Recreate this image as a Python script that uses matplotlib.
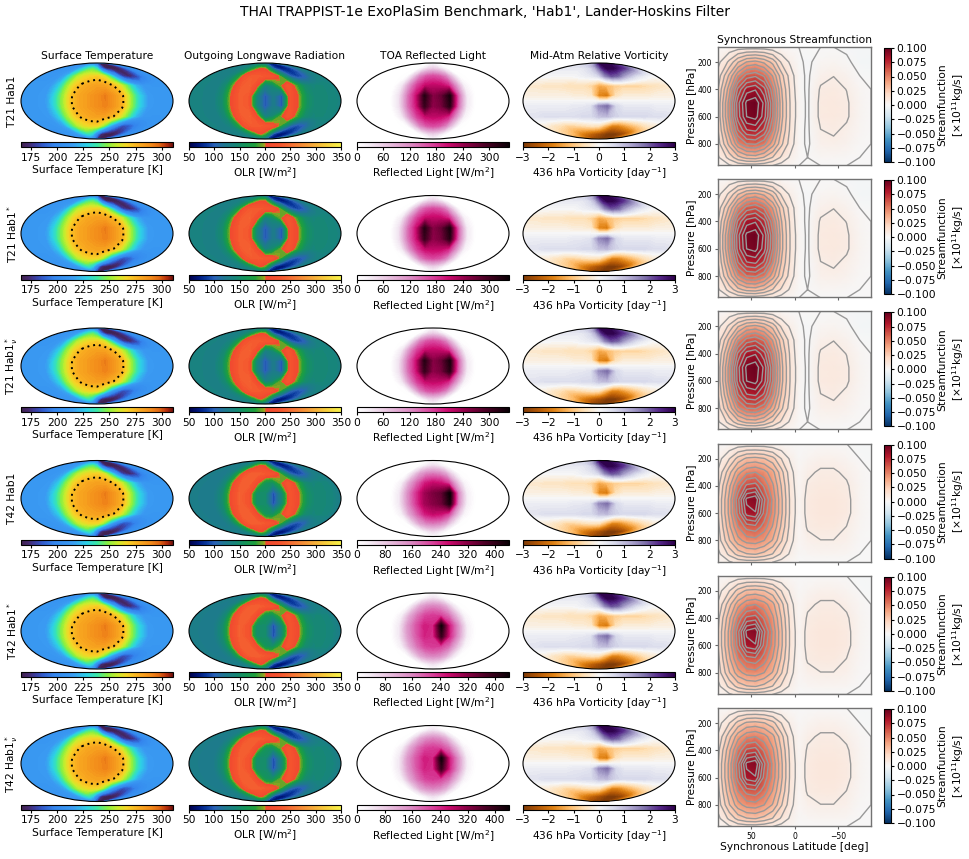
import numpy as np
import matplotlib
matplotlib.use('Agg')
import matplotlib.pyplot as plt
from matplotlib.colors import LinearSegmentedColormap, Normalize
from matplotlib.cm import ScalarMappable

#----- map grid [deg], rows north -> south
lon = np.arange(-180, 181, 20)
lat = np.array([90, 70, 50, 30, 10, -10, -30, -50, -70, -90])

#----- surface temperature [K]
tsurf = np.array([
    [205, 205, 205, 205, 205, 205, 205, 200, 190, 178, 168, 165, 165, 165, 168, 176, 190, 200, 205],
    [208, 208, 208, 210, 212, 218, 228, 238, 242, 232, 192, 168, 165, 165, 168, 178, 194, 205, 208],
    [210, 210, 210, 212, 218, 238, 254, 262, 266, 268, 262, 240, 210, 178, 170, 178, 195, 206, 210],
    [212, 212, 212, 214, 226, 248, 266, 276, 280, 282, 281, 275, 262, 242, 222, 212, 211, 211, 212],
    [213, 213, 213, 215, 232, 252, 273, 280, 284, 288, 293, 285, 276, 252, 230, 215, 212, 212, 213],
    [213, 213, 213, 215, 232, 252, 273, 280, 284, 288, 292, 285, 276, 252, 230, 215, 212, 212, 213],
    [212, 212, 212, 214, 226, 248, 266, 276, 280, 282, 281, 275, 262, 242, 222, 212, 211, 211, 212],
    [210, 210, 210, 212, 218, 238, 254, 262, 266, 266, 250, 222, 198, 182, 186, 196, 204, 208, 210],
    [208, 208, 208, 210, 212, 218, 228, 236, 228, 200, 172, 166, 165, 167, 174, 188, 200, 206, 208],
    [205, 205, 205, 205, 205, 205, 205, 196, 182, 170, 165, 165, 165, 166, 172, 185, 196, 204, 205]])

#----- outgoing longwave radiation [W/m2]
olr_t21 = np.array([
    [132, 132, 132, 132, 132, 130, 126, 120, 110, 98, 85, 72, 65, 65, 70, 82, 98, 115, 132],
    [132, 132, 132, 132, 136, 145, 160, 185, 200, 198, 160, 95, 75, 70, 74, 88, 106, 124, 132],
    [134, 134, 132, 132, 142, 175, 225, 235, 235, 230, 226, 205, 150, 100, 88, 98, 118, 134, 134],
    [134, 134, 132, 132, 148, 200, 235, 240, 205, 130, 145, 190, 232, 188, 150, 140, 142, 140, 134],
    [135, 135, 132, 132, 150, 205, 238, 232, 140, 95, 125, 95, 225, 198, 155, 142, 142, 140, 135],
    [135, 135, 132, 132, 150, 205, 238, 232, 140, 95, 125, 95, 225, 198, 155, 142, 142, 140, 135],
    [134, 134, 132, 132, 148, 200, 235, 240, 205, 130, 145, 190, 232, 188, 150, 140, 142, 140, 134],
    [134, 134, 132, 132, 142, 175, 225, 235, 235, 230, 226, 200, 150, 105, 92, 100, 120, 134, 134],
    [132, 132, 132, 132, 136, 145, 160, 185, 205, 190, 150, 90, 70, 66, 70, 86, 104, 122, 132],
    [132, 132, 132, 132, 132, 130, 126, 118, 105, 92, 80, 70, 65, 65, 70, 82, 98, 115, 132]])
olr_t42 = np.array([
    [128, 128, 128, 128, 128, 126, 124, 120, 110, 98, 85, 72, 65, 65, 70, 82, 98, 115, 128],
    [126, 126, 126, 126, 132, 145, 162, 190, 205, 198, 160, 100, 78, 70, 74, 88, 106, 122, 126],
    [126, 126, 124, 126, 140, 180, 228, 238, 238, 232, 226, 205, 150, 100, 88, 98, 118, 132, 126],
    [126, 126, 124, 126, 146, 205, 238, 238, 205, 160, 150, 190, 232, 192, 150, 140, 142, 138, 126],
    [126, 126, 124, 126, 148, 208, 240, 225, 150, 150, 90, 140, 228, 202, 155, 142, 142, 138, 126],
    [126, 126, 124, 126, 148, 208, 240, 225, 150, 150, 90, 140, 228, 202, 155, 142, 142, 138, 126],
    [126, 126, 124, 126, 146, 205, 238, 238, 205, 160, 150, 190, 232, 192, 150, 140, 142, 138, 126],
    [126, 126, 124, 126, 140, 180, 228, 238, 238, 232, 226, 200, 150, 105, 92, 100, 120, 132, 126],
    [126, 126, 126, 126, 132, 145, 160, 188, 208, 190, 150, 90, 70, 66, 70, 86, 104, 120, 126],
    [128, 128, 128, 128, 128, 126, 124, 118, 105, 92, 80, 70, 65, 65, 70, 82, 98, 115, 128]])

#----- TOA reflected light [W/m2]
refl_t21 = np.array([
    [0, 0, 0, 0, 0, 0, 0, 0, 0, 0, 0, 0, 0, 0, 0, 0, 0, 0, 0],
    [0, 0, 0, 0, 0, 0, 5, 25, 45, 55, 45, 25, 5, 0, 0, 0, 0, 0, 0],
    [0, 0, 0, 0, 0, 5, 60, 125, 155, 165, 155, 125, 60, 5, 0, 0, 0, 0, 0],
    [0, 0, 0, 0, 0, 30, 115, 175, 210, 215, 212, 190, 110, 20, 0, 0, 0, 0, 0],
    [0, 0, 0, 0, 0, 40, 135, 205, 320, 250, 270, 330, 150, 30, 0, 0, 0, 0, 0],
    [0, 0, 0, 0, 0, 40, 135, 200, 305, 245, 262, 318, 145, 30, 0, 0, 0, 0, 0],
    [0, 0, 0, 0, 0, 30, 115, 175, 210, 215, 212, 190, 110, 20, 0, 0, 0, 0, 0],
    [0, 0, 0, 0, 0, 5, 60, 125, 155, 165, 155, 125, 60, 5, 0, 0, 0, 0, 0],
    [0, 0, 0, 0, 0, 0, 5, 25, 45, 55, 45, 25, 5, 0, 0, 0, 0, 0, 0],
    [0, 0, 0, 0, 0, 0, 0, 0, 0, 0, 0, 0, 0, 0, 0, 0, 0, 0, 0]])
refl_t42 = np.array([
    [0, 0, 0, 0, 0, 0, 0, 0, 0, 0, 0, 0, 0, 0, 0, 0, 0, 0, 0],
    [0, 0, 0, 0, 0, 0, 5, 25, 45, 55, 45, 25, 5, 0, 0, 0, 0, 0, 0],
    [0, 0, 0, 0, 0, 5, 65, 130, 160, 170, 160, 125, 55, 5, 0, 0, 0, 0, 0],
    [0, 0, 0, 0, 0, 30, 125, 190, 250, 270, 260, 220, 110, 20, 0, 0, 0, 0, 0],
    [0, 0, 0, 0, 0, 40, 150, 230, 300, 330, 350, 440, 160, 30, 0, 0, 0, 0, 0],
    [0, 0, 0, 0, 0, 40, 145, 225, 295, 320, 340, 420, 155, 30, 0, 0, 0, 0, 0],
    [0, 0, 0, 0, 0, 30, 125, 190, 250, 270, 260, 220, 110, 20, 0, 0, 0, 0, 0],
    [0, 0, 0, 0, 0, 5, 65, 130, 160, 170, 160, 125, 55, 5, 0, 0, 0, 0, 0],
    [0, 0, 0, 0, 0, 0, 5, 25, 45, 55, 45, 25, 5, 0, 0, 0, 0, 0, 0],
    [0, 0, 0, 0, 0, 0, 0, 0, 0, 0, 0, 0, 0, 0, 0, 0, 0, 0, 0]])
refl_t42s = np.array([
    [0, 0, 0, 0, 0, 0, 0, 0, 0, 0, 0, 0, 0, 0, 0, 0, 0, 0, 0],
    [0, 0, 0, 0, 0, 0, 5, 20, 40, 50, 40, 20, 5, 0, 0, 0, 0, 0, 0],
    [0, 0, 0, 0, 0, 5, 60, 120, 150, 160, 150, 115, 50, 5, 0, 0, 0, 0, 0],
    [0, 0, 0, 0, 0, 30, 115, 175, 215, 225, 215, 180, 100, 20, 0, 0, 0, 0, 0],
    [0, 0, 0, 0, 0, 40, 140, 200, 250, 240, 430, 245, 145, 30, 0, 0, 0, 0, 0],
    [0, 0, 0, 0, 0, 40, 135, 195, 245, 235, 390, 240, 140, 30, 0, 0, 0, 0, 0],
    [0, 0, 0, 0, 0, 30, 115, 175, 215, 225, 215, 180, 100, 20, 0, 0, 0, 0, 0],
    [0, 0, 0, 0, 0, 5, 60, 120, 150, 160, 150, 115, 50, 5, 0, 0, 0, 0, 0],
    [0, 0, 0, 0, 0, 0, 5, 20, 40, 50, 40, 20, 5, 0, 0, 0, 0, 0, 0],
    [0, 0, 0, 0, 0, 0, 0, 0, 0, 0, 0, 0, 0, 0, 0, 0, 0, 0, 0]])

#----- 436 hPa relative vorticity [1/day]
vort = np.array([
    [0.5, 0.5, 0.6, 0.8, 1.0, 1.2, 1.5, 2.0, 2.5, 2.8, 3.0, 3.0, 3.0, 3.0, 3.0, 2.8, 2.5, 2.0, 1.5],
    [0.3, 0.3, 0.3, 0.3, 0.3, 0.3, 0.4, 0.6, 1.0, 1.8, 2.6, 3.0, 3.0, 2.8, 2.5, 2.2, 1.8, 1.2, 0.6],
    [0.0, 0.0, 0.0, 0.0, 0.0, 0.0, 0.1, 0.2, 0.3, 0.6, 1.5, 2.0, 1.8, 1.2, 0.8, 0.4, 0.2, 0.0, 0.0],
    [-0.4, -0.4, -0.5, -0.5, -0.5, -0.6, -0.6, -0.6, -0.8, -1.4, -1.2, -0.9, -0.8, -0.8, -0.8, -0.7, -0.6, -0.5, -0.4],
    [-0.2, -0.2, -0.2, -0.2, -0.2, -0.2, -0.3, -0.3, -0.4, -1.8, -2.0, -0.6, -0.3, -0.3, -0.3, -0.3, -0.2, -0.2, -0.2],
    [0.2, 0.2, 0.2, 0.2, 0.2, 0.2, 0.3, 0.3, 0.4, 1.5, 1.8, 0.6, 0.3, 0.3, 0.3, 0.3, 0.2, 0.2, 0.2],
    [0.4, 0.4, 0.5, 0.5, 0.5, 0.5, 0.5, 0.6, 0.6, 0.9, 1.0, 0.7, 0.6, 0.6, 0.6, 0.6, 0.5, 0.5, 0.4],
    [-0.3, -0.3, -0.5, -0.6, -0.8, -0.8, -0.7, -0.6, -0.5, -0.6, -1.2, -1.8, -1.8, -1.5, -1.2, -0.9, -0.6, -0.4, -0.3],
    [-0.8, -0.8, -1.0, -1.2, -1.5, -1.8, -2.0, -2.2, -2.4, -2.6, -2.8, -3.0, -3.0, -3.0, -2.8, -2.5, -2.0, -1.5, -1.0],
    [-2.0, -2.0, -2.2, -2.4, -2.6, -2.8, -3.0, -3.0, -3.0, -3.0, -3.0, -3.0, -3.0, -3.0, -3.0, -3.0, -2.8, -2.5, -2.2]])

#----- synchronous streamfunction [1e11 kg/s]
stream_lat = np.array([88, 75, 65, 55, 45, 35, 25, 15, 5, -5, -15, -30, -45, -60, -75, -88])
stream_p = np.array([90, 200, 300, 400, 500, 600, 700, 800, 900, 960])
psi_t21 = np.array([
    [0.000, 0.002, 0.003, 0.003, 0.003, 0.003, 0.002, 0.001, 0.000, 0.000, 0.000, 0.000, 0.000, -0.001, -0.002, -0.002],
    [0.005, 0.016, 0.028, 0.036, 0.038, 0.034, 0.026, 0.013, 0.006, 0.001, -0.001, 0.002, 0.003, 0.001, -0.002, -0.003],
    [0.010, 0.030, 0.048, 0.060, 0.063, 0.056, 0.042, 0.024, 0.011, 0.002, -0.001, 0.005, 0.007, 0.004, 0.000, -0.001],
    [0.014, 0.040, 0.066, 0.082, 0.085, 0.074, 0.052, 0.029, 0.013, 0.002, -0.001, 0.008, 0.009, 0.007, 0.002, 0.000],
    [0.016, 0.046, 0.076, 0.095, 0.098, 0.084, 0.058, 0.031, 0.014, 0.003, -0.001, 0.009, 0.010, 0.008, 0.003, 0.000],
    [0.016, 0.046, 0.075, 0.093, 0.096, 0.082, 0.057, 0.031, 0.014, 0.003, -0.001, 0.009, 0.010, 0.008, 0.003, 0.000],
    [0.014, 0.040, 0.064, 0.078, 0.080, 0.070, 0.050, 0.028, 0.013, 0.002, -0.001, 0.007, 0.008, 0.006, 0.002, 0.000],
    [0.011, 0.031, 0.048, 0.057, 0.058, 0.052, 0.039, 0.023, 0.011, 0.002, -0.001, 0.005, 0.006, 0.004, 0.001, 0.000],
    [0.006, 0.017, 0.026, 0.031, 0.032, 0.028, 0.021, 0.013, 0.006, 0.001, 0.000, 0.002, 0.002, 0.001, 0.000, 0.000],
    [0.002, 0.006, 0.009, 0.010, 0.010, 0.009, 0.007, 0.004, 0.002, 0.000, 0.000, 0.000, 0.000, 0.000, 0.000, 0.000]])
psi_t42 = np.array([
    [0.000, 0.001, 0.002, 0.002, 0.002, 0.002, 0.001, 0.001, 0.000, 0.000, 0.000, 0.000, 0.000, 0.000, -0.001, -0.001],
    [0.004, 0.014, 0.024, 0.030, 0.031, 0.029, 0.024, 0.014, 0.006, 0.001, 0.003, 0.005, 0.005, 0.003, 0.000, -0.001],
    [0.008, 0.026, 0.040, 0.048, 0.050, 0.046, 0.038, 0.024, 0.010, 0.002, 0.006, 0.008, 0.008, 0.006, 0.002, 0.000],
    [0.012, 0.034, 0.052, 0.066, 0.068, 0.056, 0.044, 0.028, 0.012, 0.002, 0.008, 0.010, 0.010, 0.008, 0.003, 0.000],
    [0.014, 0.038, 0.062, 0.088, 0.092, 0.066, 0.048, 0.030, 0.013, 0.003, 0.009, 0.011, 0.011, 0.009, 0.003, 0.000],
    [0.014, 0.038, 0.060, 0.082, 0.085, 0.062, 0.047, 0.030, 0.013, 0.003, 0.009, 0.011, 0.011, 0.009, 0.003, 0.000],
    [0.012, 0.034, 0.050, 0.060, 0.062, 0.054, 0.042, 0.027, 0.012, 0.002, 0.008, 0.010, 0.010, 0.007, 0.002, 0.000],
    [0.010, 0.028, 0.040, 0.046, 0.047, 0.043, 0.035, 0.022, 0.010, 0.002, 0.005, 0.007, 0.007, 0.005, 0.001, 0.000],
    [0.005, 0.016, 0.024, 0.028, 0.029, 0.026, 0.021, 0.013, 0.006, 0.001, 0.002, 0.003, 0.003, 0.002, 0.000, 0.000],
    [0.002, 0.006, 0.009, 0.010, 0.010, 0.009, 0.007, 0.004, 0.002, 0.000, 0.000, 0.000, 0.000, 0.000, 0.000, 0.000]])

#----- labels / per-row choices
row_labels = ['T21 Hab1', r'T21 Hab1$^*$', r'T21 Hab1$^*_\nu$',
              'T42 Hab1', r'T42 Hab1$^*$', r'T42 Hab1$^*_\nu$']
col_titles = ['Surface Temperature', 'Outgoing Longwave Radiation',
              'TOA Reflected Light', 'Mid-Atm Relative Vorticity']
cbar_labels = ['Surface Temperature [K]', r'OLR [W/m$^2$]',
               r'Reflected Light [W/m$^2$]', r'436 hPa Vorticity [day$^{-1}$]']
olr_rows = [olr_t21, olr_t21, olr_t21, olr_t42, olr_t42, olr_t42]
refl_rows = [refl_t21, refl_t21, refl_t21, refl_t42, refl_t42s, refl_t42s]
refl_max = [345, 345, 345, 440, 440, 440]
refl_ticks = [[0, 60, 120, 180, 240, 300]] * 3 + [[0, 80, 160, 240, 320, 400]] * 3
psi_rows = [psi_t21, psi_t21, psi_t21, psi_t42, psi_t42, psi_t42]
temp_ticks = [175, 200, 225, 250, 275, 300]
olr_ticks = [50, 100, 150, 200, 250, 300, 350]
vort_ticks = [-3, -2, -1, 0, 1, 2, 3]
psi_ticks = [-0.1, -0.075, -0.05, -0.025, 0, 0.025, 0.05, 0.075, 0.1]

#----- colour maps
def cmap_from(name, nodes, vmin, vmax):
    return LinearSegmentedColormap.from_list(
        name, [((v - vmin) / (vmax - vmin), c) for v, c in nodes])

t_min, t_max = 165, 311
temp_cmap = cmap_from('tsurf', [
    (165, '#40204f'), (172, '#452a6e'), (178, '#3c3c9c'), (186, '#325ccc'),
    (197, '#3486ee'), (215, '#3a9cf2'), (228, '#2dd0e6'), (238, '#3ce8a6'),
    (248, '#86f043'), (258, '#cdeb2c'), (267, '#f7d326'), (278, '#f9ac20'),
    (290, '#f28a1a'), (298, '#e06814'), (305, '#b8300c'), (311, '#70100c')],
    t_min, t_max)
olr_cmap = cmap_from('olr', [
    (50, '#00004b'), (70, '#001a80'), (85, '#0a3a9e'), (100, '#2a62b8'),
    (120, '#1f7890'), (140, '#17857a'), (160, '#14945a'), (180, '#1ea03c'),
    (195, '#7aa424'), (200, '#a8a21c'), (201, '#f04830'), (230, '#f4542e'),
    (260, '#f57a36'), (290, '#f6a33a'), (320, '#f7cd3c'), (350, '#f7f24a')], 50, 350)
refl_cmap = cmap_from('refl', [
    (0, '#ffffff'), (0.08, '#f4ecf4'), (0.2, '#e8c4e0'), (0.35, '#dc8cc4'),
    (0.5, '#d8409a'), (0.6, '#cc0a6e'), (0.72, '#8c0046'), (0.85, '#4a0024'),
    (1.0, '#0a0005')], 0, 1)

#----- layout in pixels
W, H = 969, 859
fig = plt.figure(figsize=(W / 100, H / 100), dpi=100)
FS = 7.7

def box(left, top, width, height):
    return [left / W, 1 - (top + height) / H, width / W, height / H]

map_left = [21, 189, 357, 523]
row_step = 132.5
LON, LAT = np.meshgrid(np.radians(lon), np.radians(lat))

fig.text(0.5, 1 - 12 / H,
         "THAI TRAPPIST-1e ExoPlaSim Benchmark, 'Hab1', Lander-Hoskins Filter",
         ha='center', va='center', fontsize=10)

for i in range(6):
    top = 63 + row_step * i
    fields = [tsurf, olr_rows[i], refl_rows[i], vort]
    cmaps = [temp_cmap, olr_cmap, refl_cmap, plt.get_cmap('PuOr')]
    lims = [(t_min, t_max), (50, 350), (0, refl_max[i]), (-3, 3)]
    ticks = [temp_ticks, olr_ticks, refl_ticks[i], vort_ticks]
    for j in range(4):
        ax = fig.add_axes(box(map_left[j], top, 152, 76), projection='mollweide')
        vmin, vmax = lims[j]
        ax.contourf(LON, LAT, fields[j], levels=np.linspace(vmin, vmax, 80),
                    cmap=cmaps[j], extend='both', antialiased=False)
        if j == 0:
            ax.contour(LON, LAT, fields[j], levels=[273.15], colors='k',
                       linewidths=1.4, linestyles=[(0, (1, 2))])
        ax.set_xticks([])
        ax.set_yticks([])
        ax.grid(False)
        if i == 0:
            ax.set_title(col_titles[j], fontsize=FS, pad=3)
        cax = fig.add_axes(box(map_left[j], top + 79, 152, 5))
        cb = fig.colorbar(ScalarMappable(Normalize(vmin, vmax), cmaps[j]),
                          cax=cax, orientation='horizontal', ticks=ticks[j])
        cb.ax.tick_params(labelsize=FS, length=2.5, pad=1.5)
        cb.set_label(cbar_labels[j], fontsize=FS, labelpad=2)
    fig.text(12 / W, 1 - (top + 38) / H, row_labels[i], rotation=90,
             ha='center', va='center', fontsize=FS)

    #----- streamfunction panel
    stop = 47 + 132.2 * i
    ax = fig.add_axes(box(718, stop, 153, 118))
    pm = ax.pcolormesh(stream_lat, stream_p, psi_rows[i], cmap='RdBu_r',
                       vmin=-0.1, vmax=0.1, shading='gouraud')
    ax.contour(stream_lat, stream_p, psi_rows[i], levels=np.linspace(-0.1, 0.1, 29),
               colors='#999999', linewidths=1.0, linestyles='solid')
    ax.set_xlim(88, -88)
    ax.set_ylim(955, 90)
    ax.set_yticks([200, 400, 600, 800])
    ax.set_xticks([50, 0, -50])
    ax.tick_params(labelsize=5.5, length=2.5, pad=1.5, color='0.4')
    ax.set_ylabel('Pressure [hPa]', fontsize=FS, labelpad=1)
    for s in ax.spines.values():
        s.set_color('0.45')
        s.set_linewidth(1.0)
    if i < 5:
        ax.set_xticklabels([])
    else:
        ax.set_xlabel('Synchronous Latitude [deg]', fontsize=FS, labelpad=1)
    if i == 0:
        ax.set_title('Synchronous Streamfunction', fontsize=FS, pad=3)
    cax = fig.add_axes(box(884, stop + 1, 7, 114))
    cb = fig.colorbar(pm, cax=cax, ticks=psi_ticks)
    cb.ax.tick_params(labelsize=FS, length=2.5, pad=1.5)
    cb.set_label('Streamfunction\n[$\\times10^{11}$kg/s]', fontsize=FS, labelpad=1)

fig.savefig('out.png', dpi=100)
